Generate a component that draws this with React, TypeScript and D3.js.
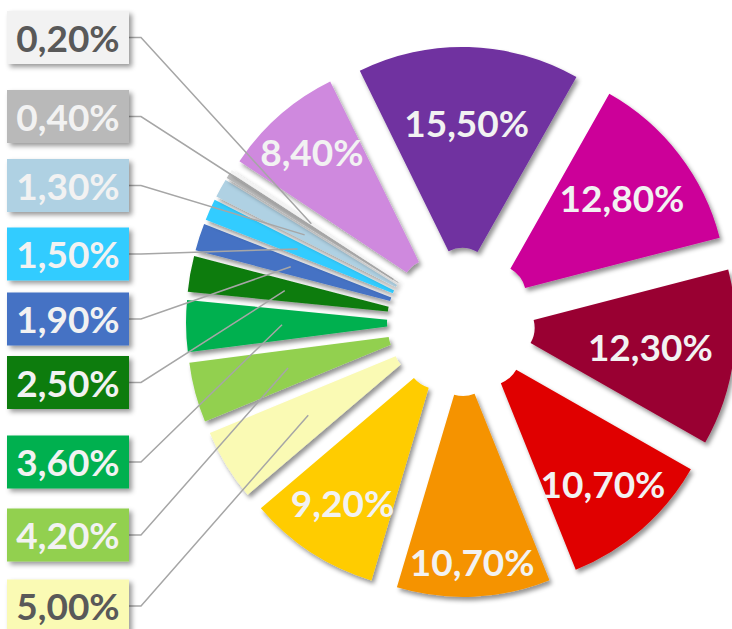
import React from 'react';
import * as d3 from 'd3';

// ---- data ----
const values = [15.5, 12.8, 12.3, 10.7, 10.7, 9.2, 5.0, 4.2, 3.6, 2.5, 1.9, 1.5, 1.3, 0.4, 0.2, 8.4];
const sliceColors = [
  '#7030a0', '#cc0099', '#990033', '#e00000', '#f59300', '#ffcc00', '#fafab4', '#92d050',
  '#00b050', '#107c10', '#4472c4', '#33ccff', '#afd1e3', '#b9b9b9', '#f2f2f2', '#cf89de',
];
const labelTextColors = [
  '#f2f2f2', '#f2f2f2', '#f2f2f2', '#f2f2f2', '#f2f2f2', '#f2f2f2', '#595959', '#f2f2f2',
  '#f2f2f2', '#f2f2f2', '#f2f2f2', '#f2f2f2', '#f2f2f2', '#f2f2f2', '#595959', '#f2f2f2',
];
// slices whose label sits in a callout box on the left
const calloutSlices = [6, 7, 8, 9, 10, 11, 12, 13, 14];
const calloutCenterY = [606, 535, 462, 382.5, 319, 254, 185.5, 116.5, 37.5];
const calloutLeaderDepth = [136, 136, 136, 136, 136, 136, 136, 37, 136];
// slices with label inside, distance from the slice apex
const insideSlices = [0, 1, 2, 3, 4, 5, 15];
const insideLabelDistance = [156, 160, 148, 173, 198, 174, 183];

const W = 732;
const H = 629;
const cx = 461;
const cy = 322;
const rOuter = 232;
const rInner = 31;
const explode = 43;
const startAngle = (-26.2 * Math.PI) / 180;

const fmt = (v: number) => v.toFixed(2).replace('.', ',') + '%';
const FONT = "Lato, 'Open Sans', sans-serif";

export default function App() {
  const pie = d3
    .pie<number>()
    .sort(null)
    .value((d) => d)
    .startAngle(startAngle)
    .endAngle(startAngle + 2 * Math.PI);
  const arcs = pie(values);
  const arcGen = d3.arc<d3.PieArcDatum<number>>().innerRadius(rInner).outerRadius(rOuter);

  const mid = (a: d3.PieArcDatum<number>) => (a.startAngle + a.endAngle) / 2;
  const apex = (a: d3.PieArcDatum<number>) => {
    const m = mid(a);
    return [cx + explode * Math.sin(m), cy - explode * Math.cos(m)];
  };
  const along = (a: d3.PieArcDatum<number>, d: number) => {
    const [ax, ay] = apex(a);
    const m = mid(a);
    return [ax + d * Math.sin(m), ay - d * Math.cos(m)];
  };

  const boxX = 7;
  const boxW = 122;
  const boxH = 53;

  return (
    <svg
      width={W}
      height={H}
      style={{ position: 'fixed', left: 0, top: 0, background: '#fff' }}
    >
      <defs>
        <filter id="sh" filterUnits="userSpaceOnUse" x={-20} y={-20} width={W + 40} height={H + 40}>
          <feDropShadow dx={2.5} dy={3.5} stdDeviation={2.2} floodColor="#000" floodOpacity={0.42} />
        </filter>
        <filter id="shb" filterUnits="userSpaceOnUse" x={-20} y={-20} width={W + 40} height={H + 40}>
          <feDropShadow dx={3} dy={3} stdDeviation={2.5} floodColor="#000" floodOpacity={0.4} />
        </filter>
      </defs>
      <g>
        {arcs.map((a, i) => {
          const [ax, ay] = apex(a);
          return (
            <g key={i} filter="url(#sh)">
              <path d={arcGen(a) || ''} transform={`translate(${ax},${ay})`} fill={sliceColors[i]} />
            </g>
          );
        })}
      </g>
      <g>
        {insideSlices.map((si, k) => {
          const [x, y] = along(arcs[si], insideLabelDistance[k]);
          return (
            <text
              key={si}
              x={x}
              y={y + 13.5}
              textAnchor="middle"
              fontFamily={FONT}
              fontWeight={700}
              fontSize={37}
              fill={labelTextColors[si]}
            >
              {fmt(values[si])}
            </text>
          );
        })}
      </g>
      <g>
        {calloutSlices.map((si, k) => {
          const yC = calloutCenterY[k];
          const [ex, ey] = along(arcs[si], calloutLeaderDepth[k]);
          const bx = boxX + boxW;
          return (
            <polyline
              key={si}
              points={`${bx},${yC} ${bx + 12},${yC} ${ex},${ey}`}
              fill="none"
              stroke="#a6a6a6"
              strokeWidth={1.5}
            />
          );
        })}
      </g>
      <g>
        {calloutSlices.map((si, k) => {
          const yC = calloutCenterY[k];
          return (
            <g key={si}>
              <rect
                x={boxX}
                y={yC - boxH / 2}
                width={boxW}
                height={boxH}
                fill={sliceColors[si]}
                filter="url(#shb)"
              />
              <text
                x={boxX + boxW / 2}
                y={yC + 14}
                textAnchor="middle"
                fontFamily={FONT}
                fontWeight={700}
                fontSize={37}
                fill={labelTextColors[si]}
              >
                {fmt(values[si])}
              </text>
            </g>
          );
        })}
      </g>
    </svg>
  );
}
